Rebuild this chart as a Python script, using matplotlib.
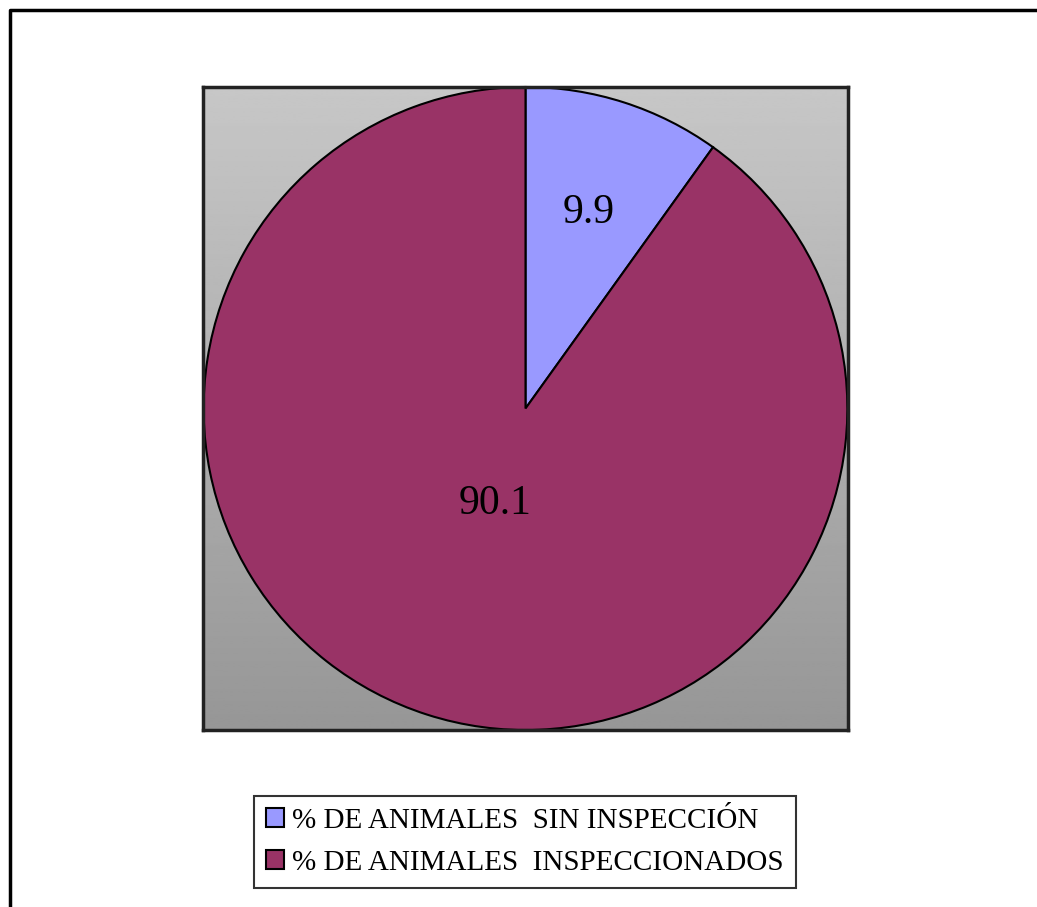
import numpy as np
import matplotlib.pyplot as plt
from matplotlib.lines import Line2D

labels = ["% DE ANIMALES  SIN INSPECCIÓN", "% DE ANIMALES  INSPECCIONADOS"]
values = [9.9, 90.1]
colors = ["#9999FF", "#993366"]
label_dist = [0.64, 0.31]

plt.rcParams['font.family'] = ['Liberation Serif', 'DejaVu Serif']

fig = plt.figure(figsize=(10.37, 9.07), dpi=100)
ax = fig.add_axes([203 / 1037, 1 - 730 / 907, 645 / 1037, 643 / 907])

# gray gradient background of the plot area
grad = np.linspace(0.78, 0.59, 256).reshape(-1, 1)
ax.imshow(grad, cmap='gray', vmin=0, vmax=1, aspect='auto',
          extent=[-1.002, 1.002, -1.0, 1.0], zorder=0)

wedges, _ = ax.pie(values, colors=colors, startangle=90, counterclock=False,
                   radius=1.0, wedgeprops=dict(edgecolor='black', linewidth=1.5))
for w, v, d in zip(wedges, values, label_dist):
    ang = np.deg2rad((w.theta1 + w.theta2) / 2)
    ax.text(d * np.cos(ang), d * np.sin(ang), f"{v:.1f}", ha='center', va='center',
            fontsize=30)

ax.set_xlim(-1.002, 1.002)
ax.set_ylim(-1.0, 1.0)
ax.set_aspect('auto')
ax.set_frame_on(True)
ax.set_xticks([])
ax.set_yticks([])
for s in ax.spines.values():
    s.set_visible(True)
    s.set_linewidth(2.5)
    s.set_edgecolor('#222222')

# outer frame (left and top only visible)
x0, y0 = 9.5 / 1037, 1 - 9.5 / 907
fig.add_artist(Line2D([x0, x0, 1.0], [0.0, y0, y0], color='black', linewidth=2.5,
                      transform=fig.transFigure))

leg = fig.legend(wedges, labels, loc='center', bbox_to_anchor=(525 / 1037, 1 - 842 / 907),
                 fontsize=21, frameon=True, fancybox=False, edgecolor='black',
                 handlelength=0.6, handleheight=0.6, handletextpad=0.3,
                 borderpad=0.4, labelspacing=0.55, borderaxespad=0)
leg.get_frame().set_linewidth(1.5)

fig.savefig('out.png', dpi=100, facecolor='white')
